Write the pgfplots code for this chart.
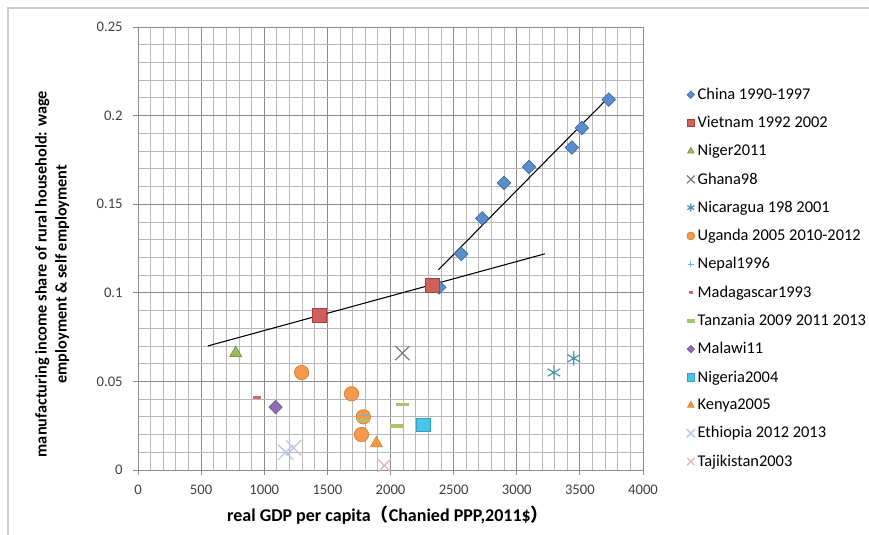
\documentclass[border=0pt]{standalone}
\usepackage{fontspec}
\setmainfont{Carlito}
\newfontfamily\cjk{Noto Sans CJK SC}
\usepackage{pgfplots}
\pgfplotsset{compat=1.18}
\definecolor{cChina}{HTML}{5B8DCB}
\definecolor{cChinaD}{HTML}{3A6BA8}
\definecolor{cViet}{HTML}{D0605C}
\definecolor{cVietD}{HTML}{A8403D}
\definecolor{cNiger}{HTML}{9BBB59}
\definecolor{cGhana}{HTML}{7E7888}
\definecolor{cNica}{HTML}{4A93AE}
\definecolor{cUganda}{HTML}{F39A4E}
\definecolor{cUgandaD}{HTML}{D97B2E}
\definecolor{cNepal}{HTML}{6FB7CF}
\definecolor{cMada}{HTML}{D9666A}
\definecolor{cTanz}{HTML}{A9C46A}
\definecolor{cMalawi}{HTML}{8E6CB8}
\definecolor{cNigeria}{HTML}{45C6EA}
\definecolor{cKenya}{HTML}{F59A40}
\definecolor{cEthi}{HTML}{BCC6E2}
\definecolor{cTaji}{HTML}{E3B4B8}
\begin{document}
\begin{tikzpicture}
\useasboundingbox (0,0) rectangle (651.75pt,401.25pt);
\draw[black!20, line width=0.9pt] (6pt,0pt) -- (6pt,395.25pt) -- (651.75pt,395.25pt);
\begin{axis}[
  at={(103.5pt,48.75pt)}, anchor=south west,
  scale only axis, width=378.75pt, height=332.25pt,
  xmin=0, xmax=4000, ymin=0, ymax=0.25,
  xtick={0,500,...,4000},
  ytick={0,0.05,0.1,0.15,0.2,0.25},
  yticklabels={0,0.05,0.1,0.15,0.2,0.25},
  minor x tick num=4, minor y tick num=4,
  grid=both,
  major grid style={black!45, line width=0.7pt},
  minor grid style={black!28, line width=0.6pt},
  axis line style={black!45, line width=0.7pt},
  tick pos=left, tick align=outside,
  major tick length=4pt, minor tick length=0pt,
  tick style={black!45, line width=0.7pt},
  /pgf/number format/assume math mode=true,
  /pgf/number format/1000 sep={},
  ticklabel style={font=\fontsize{11}{12}\selectfont, text=black!75},
  xticklabel style={yshift=-4pt},
  yticklabel style={xshift=-4pt},
  xlabel={real GDP per capita{\cjk （}Chanied PPP,2011\${\cjk ）}},
  xlabel style={font=\bfseries\fontsize{13.5}{15}\selectfont, at={(axis description cs:0.495,-0.102)}, anchor=center},
  ylabel={manufacturing income share of rural household: wage\\employment \& self employment},
  ylabel style={font=\bfseries\fontsize{12.2}{15}\selectfont, align=center, at={(axis description cs:-0.170,0.442)}, anchor=center},
  legend style={draw=none, fill=none, at={(axis description cs:1.086,0.869)}, anchor=north west,
    font=\fontsize{12.3}{14}\selectfont, row sep=7.2pt, inner sep=0pt,
    legend cell align=left},
  legend image code/.code={\draw[#1, /tikz/every mark/.append style={scale=0.55}] plot coordinates {(0.1cm,0cm)};},
  clip=false,
]
\addplot[only marks, mark=square*, mark size=3.6pt, mark options={rotate=45, fill=cChina, draw=cChinaD, line width=0.5pt}] coordinates {
(2386,0.103) (2560,0.122) (2726,0.142) (2899,0.162) (3097,0.171) (3437,0.182) (3516,0.193) (3729,0.209)};
\addlegendentry{China 1990-1997}
\addplot[only marks, mark=square*, mark size=5.2pt, mark options={fill=cViet, draw=cVietD, line width=0.6pt}] coordinates {
(1438,0.087) (2331,0.104)};
\addlegendentry{Vietnam 1992 2002}
\addplot[only marks, mark=triangle*, mark size=5.2pt, mark options={fill=cNiger, draw=cNiger!80!black, line width=0.5pt}] coordinates {
(774,0.066)};
\addlegendentry{Niger2011}
\addplot[only marks, mark=x, mark size=7.5pt, mark options={draw=cGhana, line width=0.9pt}] coordinates {
(2094,0.066)};
\addlegendentry{Ghana98}
\addplot[only marks, mark=asterisk, mark size=5.5pt, mark options={draw=cNica, line width=0.9pt}] coordinates {
(3294,0.055) (3452,0.063)};
\addlegendentry{Nicaragua 198 2001}
\addplot[only marks, mark=*, mark size=5.4pt, mark options={fill=cUganda, draw=cUgandaD, line width=0.5pt}] coordinates {
(1296,0.055) (1691,0.043) (1785,0.030) (1770,0.020)};
\addlegendentry{Uganda 2005 2010-2012}
\addplot[only marks, mark=+, mark size=4pt, mark options={draw=cNepal, line width=0.8pt}] coordinates {
(1785,0.031)};
\addlegendentry{Nepal1996}
\addplot[only marks, mark=-, mark size=3pt, mark options={draw=cMada, line width=2.6pt}] coordinates {
(940,0.041)};
\addlegendentry{Madagascar1993}
\addplot[only marks, mark=-, mark size=5pt, mark options={draw=cTanz, line width=2.8pt}] coordinates {
(2094,0.037) (2046,0.025) (1785,0.028)};
\addlegendentry{Tanzania 2009 2011 2013}
\addplot[only marks, mark=square*, mark size=3.5pt, mark options={rotate=45, fill=cMalawi, draw=cMalawi!80!black, line width=0.5pt}] coordinates {
(1090,0.0355)};
\addlegendentry{Malawi11}
\addplot[only marks, mark=square*, mark size=5.2pt, mark options={fill=cNigeria, draw=cNigeria!80!black, line width=0.5pt}] coordinates {
(2259,0.0255)};
\addlegendentry{Nigeria2004}
\addplot[only marks, mark=triangle*, mark size=5.2pt, mark options={fill=cKenya, draw=cKenya!85!black, line width=0.5pt}] coordinates {
(1888,0.015)};
\addlegendentry{Kenya2005}
\addplot[only marks, mark=x, mark size=8pt, mark options={draw=cEthi, line width=1pt}] coordinates {
(1170,0.010) (1232,0.0125)};
\addlegendentry{Ethiopia 2012 2013}
\addplot[only marks, mark=x, mark size=7pt, mark options={draw=cTaji, line width=1pt}] coordinates {
(1951,0.0025)};
\addlegendentry{Tajikistan2003}
\addplot[forget plot, black, line width=0.8pt, no marks] coordinates {(2380,0.113) (3730,0.2105)};
\addplot[forget plot, black, line width=0.8pt, no marks] coordinates {(553,0.070) (3223,0.122)};
\end{axis}
\end{tikzpicture}
\end{document}
